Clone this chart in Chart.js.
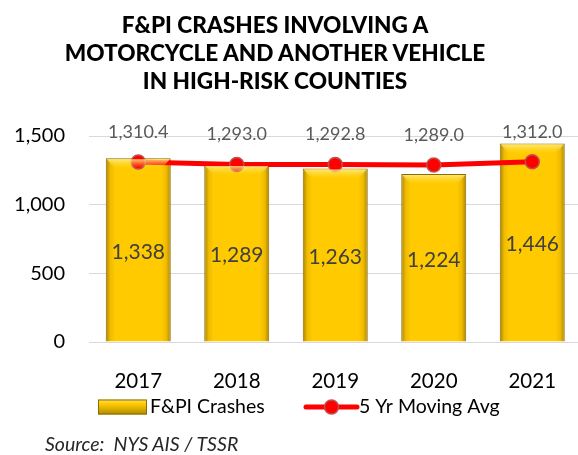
<!DOCTYPE html>
<html>
<head>
<meta charset="utf-8">
<script src="https://cdn.jsdelivr.net/npm/chart.js@4"></script>
<style>
  html, body { margin: 0; padding: 0; background: #fff; overflow: hidden; width: 578px; height: 455px; }
  #wrap { position: relative; width: 578px; height: 455px; overflow: hidden; }
  #title { position: absolute; left: 0; top: 11px; width: 550px; text-align: center;
           font: 900 22.6px Lato, sans-serif; line-height: 28px; color: #000; }
  #source { position: absolute; left: 45px; top: 432px; font: italic 19.5px Lato, sans-serif; color: #262626; }
  canvas { position: absolute; left: 0; top: 0; }
</style>
</head>
<body>
<div id="wrap">
  <canvas id="myChart" width="590" height="455"></canvas>
  <div id="title">F&amp;PI CRASHES INVOLVING A<br>MOTORCYCLE AND ANOTHER VEHICLE<br>IN HIGH-RISK COUNTIES</div>
  <div id="source">Source:&nbsp; NYS AIS / TSSR</div>
</div>
<script>
const years = ['2017', '2018', '2019', '2020', '2021'];
const crashes = [1338, 1289, 1263, 1224, 1446];
const movingAvg = [1310.4, 1293.0, 1292.8, 1289.0, 1312.0];
const yTicks = [0, 500, 1000, 1500];

const fontFam = 'Lato, sans-serif';

function barGradient(context) {
    const chart = context.chart;
    const xs = chart.scales.x;
    if (!chart.chartArea || !xs || context.dataIndex === undefined) return '#ffcb00';
    const cx = xs.getPixelForTick(context.dataIndex);
    const half = xs.width / years.length * 0.66 / 2;
    if (!isFinite(cx) || !isFinite(half) || half <= 0) return '#ffcb00';
    const g = chart.ctx.createLinearGradient(cx - half, 0, cx + half, 0);
    g.addColorStop(0, '#a98400');
    g.addColorStop(0.07, '#f0bb00');
    g.addColorStop(0.15, '#ffcb00');
    g.addColorStop(0.85, '#ffcb00');
    g.addColorStop(0.93, '#f0bb00');
    g.addColorStop(1, '#a98400');
    return g;
}

// labels, bar bevel and legend
const extras = {
    id: 'extras',
    afterDatasetsDraw(chart) {
        const ctx = chart.ctx;
        const bars = chart.getDatasetMeta(0).data;
        ctx.save();
        // top bevel on bars
        bars.forEach(b => {
            const l = b.x - b.width / 2, r = b.x + b.width / 2, t = b.y;
            const g = ctx.createLinearGradient(0, t, 0, t + 10);
            g.addColorStop(0, 'rgba(255,240,150,0.9)');
            g.addColorStop(1, 'rgba(255,220,60,0)');
            ctx.fillStyle = g;
            ctx.beginPath();
            ctx.moveTo(l + 1, t + 1);
            ctx.lineTo(r - 1, t + 1);
            ctx.lineTo(r - 9, t + 10);
            ctx.lineTo(l + 9, t + 10);
            ctx.closePath();
            ctx.fill();
        });
        ctx.restore();
    },
    afterDraw(chart) {
        const ctx = chart.ctx;
        const bars = chart.getDatasetMeta(0).data;
        const pts = chart.getDatasetMeta(1).data;
        const ys = chart.scales.y;
        ctx.save();
        ctx.textAlign = 'center';
        ctx.textBaseline = 'middle';
        // bar value labels
        ctx.font = '21px ' + fontFam;
        ctx.fillStyle = '#404040';
        bars.forEach((b, i) => {
            const mid = ys.getPixelForValue(crashes[i] / 2) + 2;
            ctx.fillText(crashes[i].toLocaleString('en-US'), b.x, mid);
        });
        // moving avg labels
        ctx.font = '18px ' + fontFam;
        ctx.fillStyle = '#595959';
        pts.forEach((p, i) => {
            ctx.fillText(movingAvg[i].toLocaleString('en-US', {minimumFractionDigits: 1, maximumFractionDigits: 1}), p.x, p.y - 30);
        });

        // legend
        const ly = 407;
        const bx = 98, bw = 49, bh = 15;
        const g = ctx.createLinearGradient(0, ly - bh / 2, 0, ly + bh / 2);
        g.addColorStop(0, '#ffe060');
        g.addColorStop(0.3, '#ffcb00');
        g.addColorStop(1, '#b08a00');
        ctx.fillStyle = g;
        ctx.fillRect(bx, ly - bh / 2, bw, bh);
        ctx.strokeStyle = '#8a6d00';
        ctx.lineWidth = 1;
        ctx.strokeRect(bx + 0.5, ly - bh / 2 + 0.5, bw - 1, bh - 1);
        ctx.font = '19.5px ' + fontFam;
        ctx.fillStyle = '#000';
        ctx.textAlign = 'left';
        ctx.fillText(chart.data.datasets[0].label, bx + bw + 3, ly);

        const lx = 306, lw = 51;
        ctx.strokeStyle = '#ff0000';
        ctx.lineWidth = 5;
        ctx.lineCap = 'round';
        ctx.beginPath();
        ctx.moveTo(lx, ly);
        ctx.lineTo(lx + lw, ly);
        ctx.stroke();
        ctx.beginPath();
        ctx.arc(lx + lw / 2, ly, 7, 0, Math.PI * 2);
        ctx.fillStyle = '#ff0000';
        ctx.fill();
        ctx.lineWidth = 1.5;
        ctx.strokeStyle = '#c05050';
        ctx.stroke();
        ctx.fillStyle = '#000';
        ctx.fillText(chart.data.datasets[1].label, lx + lw + 2, ly);
        ctx.restore();
    }
};

new Chart('myChart', {
    type: 'bar',
    data: {
        labels: years,
        datasets: [{
            type: 'bar',
            label: 'F&PI Crashes',
            data: crashes,
            backgroundColor: barGradient,
            borderColor: '#8a6d00',
            borderWidth: 1,
            categoryPercentage: 1,
            barPercentage: 0.66,
            order: 2
        }, {
            type: 'line',
            label: '5 Yr Moving Avg',
            data: movingAvg,
            borderColor: '#ff0000',
            borderWidth: 5,
            pointRadius: 7,
            pointBackgroundColor: '#ff0000',
            pointBorderColor: '#c05050',
            pointBorderWidth: 1.5,
            tension: 0,
            order: 1
        }]
    },
    options: {
        responsive: false,
        animation: false,
        layout: { padding: { top: 136, right: 4, bottom: 63, left: 0 } },
        plugins: {
            legend: { display: false },
            tooltip: { enabled: false },
            title: { display: false }
        },
        scales: {
            x: {
                grid: { display: false },
                border: { display: false },
                ticks: { color: '#000', font: { family: fontFam, size: 20.5 }, padding: 19 },
                afterFit(scale) { scale.height = 50; }
            },
            y: {
                min: 0,
                max: 1500,
                afterBuildTicks(scale) { scale.ticks = yTicks.map(v => ({ value: v })); },
                grid: { color: '#d9d9d9', lineWidth: 1, drawTicks: false },
                border: { display: false },
                ticks: {
                    color: '#000',
                    font: { family: fontFam, size: 20 },
                    padding: 24,
                    callback: v => v.toLocaleString('en-US')
                },
                afterFit(scale) { scale.width = 89; }
            }
        }
    },
    plugins: [extras]
});
</script>
</body>
</html>
